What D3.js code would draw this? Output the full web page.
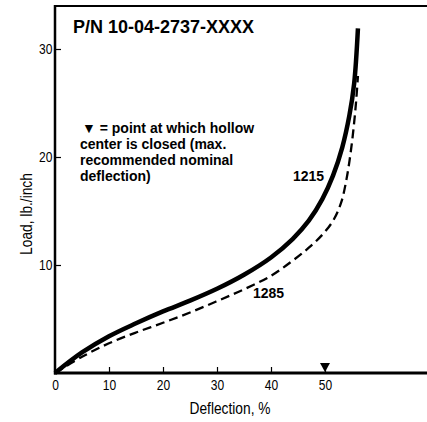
<!DOCTYPE html>
<html>
<head>
<meta charset="utf-8">
<script src="https://cdn.jsdelivr.net/npm/d3@7"></script>
<style>
body{margin:0;background:#fff;}
svg{display:block;}
</style>
</head>
<body>
<script>
// deflection (%) vs load (lb./inch)
let curve1215=[[0,0],[5,1.9],[10,3.4],[15,4.6],[20,5.7],[25,6.7],[30,7.8],[35,9.1],[40,10.7],[44,12.4],[47,14.1],[49.5,16.1],[51.5,18.3],[53.2,20.9],[54.5,23.8],[55.4,26.8],[56.1,31.9]];
let curve1285=[[0,0],[5,1.5],[10,2.75],[15,3.75],[20,4.65],[25,5.6],[30,6.65],[35,7.75],[40,9.0],[44,10.4],[47,11.6],[49.5,12.8],[51.5,14.1],[53,15.8],[54,18.0],[54.8,20.6],[55.4,23.2],[55.8,25.4],[56.1,27.5]];
let xTicks=[0,10,20,30,40,50];
let yTicks=[10,20,30];
let closedAt=50;
let noteLines=["\u25BC = point at which hollow","center is closed (max.","recommended nominal","deflection)"];

let w=427,h=422;
let font="'Liberation Sans',Arial,sans-serif";
let squeeze="scale(0.86,1)";

let svg=d3.select("body").append("svg").attr("width",w).attr("height",h);

let xScale=d3.scaleLinear().domain([0,70]).range([55,55+70*5.4]);
let yScale=d3.scaleLinear().domain([0,34]).range([373,373-34*10.8]);

// frame top
svg.append("line").attr("x1",55).attr("x2",w).attr("y1",6).attr("y2",6).attr("stroke","#000").attr("stroke-width",2);

let xAxis=d3.axisBottom(xScale).tickValues(xTicks).tickSize(-6).tickPadding(7).tickFormat(d3.format("d"));
let gx=svg.append("g").attr("transform","translate(0,373)").call(xAxis);
gx.select(".domain").remove();
gx.selectAll(".tick line").attr("stroke","#000").attr("stroke-width",1.2).filter(d=>d==0).remove();
gx.selectAll("text").style("font",`14px ${font}`).attr("fill","#000").attr("transform",squeeze);

let yAxis=d3.axisLeft(yScale).tickValues(yTicks).tickSize(-6).tickPadding(3);
let gy=svg.append("g").attr("transform","translate(55,0)").call(yAxis);
gy.select(".domain").remove();
gy.selectAll(".tick line").attr("stroke","#000").attr("stroke-width",1.2);
gy.selectAll("text").style("font",`14px ${font}`).attr("fill","#000").attr("transform",squeeze);

svg.append("line").attr("x1",55).attr("x2",55).attr("y1",5).attr("y2",374.5).attr("stroke","#000").attr("stroke-width",2.5);
svg.append("line").attr("x1",54).attr("x2",w).attr("y1",373).attr("y2",373).attr("stroke","#000").attr("stroke-width",3);

let line=d3.line().x(d=>xScale(d[0])).y(d=>yScale(d[1])).curve(d3.curveCatmullRom.alpha(0.5));

svg.append("path").attr("d",line(curve1285)).attr("fill","none").attr("stroke","#000").attr("stroke-width",2.3).attr("stroke-dasharray","9,5");
svg.append("path").attr("d",line(curve1215)).attr("fill","none").attr("stroke","#000").attr("stroke-width",4.5);

// closed marker
let mx=xScale(closedAt);
svg.append("path").attr("d",`M${mx-5},363 L${mx+5},363 L${mx},372 Z`).attr("fill","#000");

svg.append("text").attr("x",308.5).attr("y",181).attr("text-anchor","middle").style("font",`bold 14px ${font}`).text("1215");
svg.append("text").attr("x",268.5).attr("y",298).attr("text-anchor","middle").style("font",`bold 14px ${font}`).text("1285");

svg.append("text").attr("x",73).attr("y",33).style("font",`bold 18px ${font}`).text("P/N 10-04-2737-XXXX");

svg.selectAll(".note").data(noteLines).enter().append("text").attr("class","note")
  .attr("x",(d,i)=>i==0?82:80).attr("y",(d,i)=>133+i*16).style("font",`bold 14px ${font}`).text(d=>d);

svg.append("text").attr("transform","translate(32,214) rotate(-90) "+squeeze).attr("text-anchor","middle").style("font",`16px ${font}`).text("Load, lb./inch");
svg.append("text").attr("transform","translate(230,414) "+squeeze).attr("text-anchor","middle").style("font",`16px ${font}`).text("Deflection, %");
</script>
</body>
</html>
